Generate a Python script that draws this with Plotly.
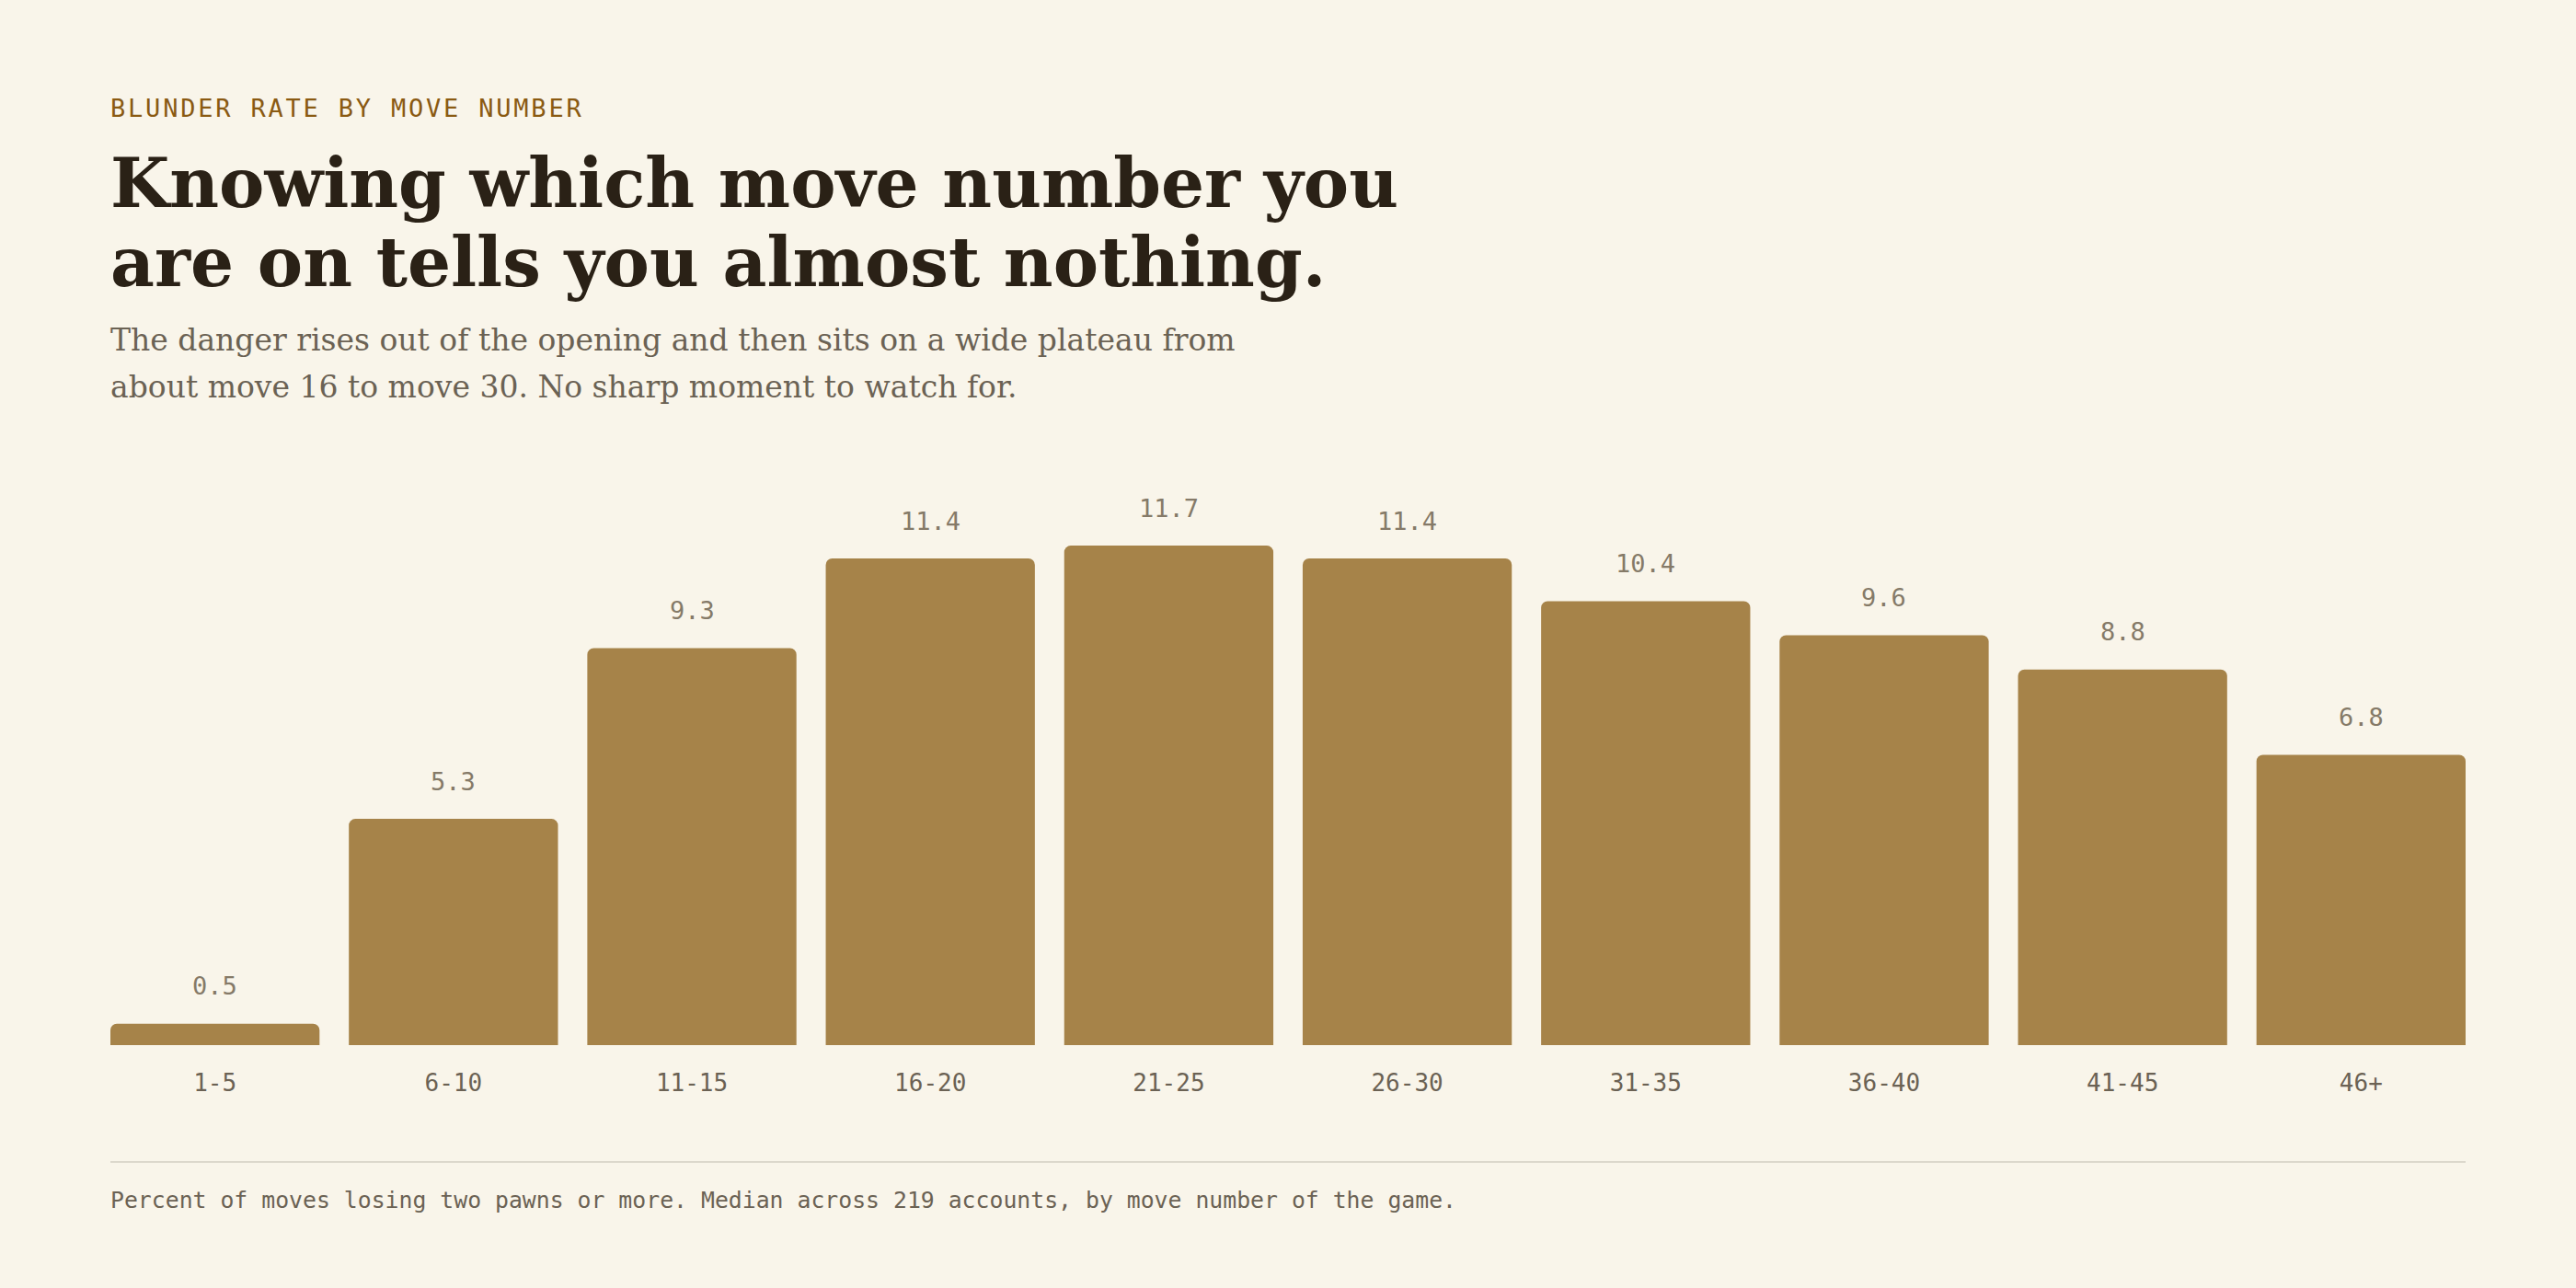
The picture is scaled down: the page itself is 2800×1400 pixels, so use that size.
import plotly.graph_objects as go

# Data
move_bins = ["1-5", "6-10", "11-15", "16-20", "21-25", "26-30", "31-35", "36-40", "41-45", "46+"]
blunder_rate = [0.5, 5.3, 9.3, 11.4, 11.7, 11.4, 10.4, 9.6, 8.8, 6.8]

eyebrow = "BLUNDER RATE BY MOVE NUMBER"
title_lines = ["Knowing which move number you", "are on tells you almost nothing."]
subtitle_lines = [
    "The danger rises out of the opening and then sits on a wide plateau from",
    "about move 16 to move 30. No sharp moment to watch for.",
]
footnote = "Percent of moves losing two pawns or more. Median across 219 accounts, by move number of the game."

# Palette
BG = "#f9f5ea"
BAR = "#a68349"
INK = "#2a2116"
ACCENT = "#8a5a12"
MUTED = "#6b6254"
LABEL = "#857a68"
RULE = "#dcd8cc"

SERIF = "DejaVu Serif"
MONO = "DejaVu Sans Mono"

W, H = 2800, 1400
M_L, M_R, M_T, M_B = 120, 120, 500, 264
PLOT_H = H - M_T - M_B
BAR_W = 0.877


def py(pix):
    # pixel row from top -> paper y
    return (H - M_B - pix) / PLOT_H


fig = go.Figure()

fig.add_trace(go.Bar(
    x=list(range(len(move_bins))),
    y=blunder_rate,
    width=BAR_W,
    marker=dict(color=BAR, line=dict(width=0), cornerradius=7),
    hoverinfo="skip",
))

annotations = []

# value labels above bars
for i, v in enumerate(blunder_rate):
    annotations.append(dict(
        x=i, y=v, xref="x", yref="y", text=f"{v:.1f}", showarrow=False,
        yanchor="middle", xanchor="center", yshift=41,
        font=dict(family=MONO, size=27, color=LABEL),
    ))

# header
annotations.append(dict(
    x=0, y=py(117), xref="paper", yref="paper", xanchor="left", yanchor="middle",
    xshift=-2,
    text=f'<span style="letter-spacing:2.8px">{eyebrow}</span>', showarrow=False,
    font=dict(family=MONO, size=27, color=ACCENT),
))
for line, cy in zip(title_lines, [199, 285]):
    annotations.append(dict(
        x=0, y=py(cy), xref="paper", yref="paper", xanchor="left", yanchor="middle",
        xshift=-2,
        text=f"<b>{line}</b>", showarrow=False,
        font=dict(family=SERIF, size=74, color=INK),
    ))
for line, cy in zip(subtitle_lines, [369.5, 420.5]):
    annotations.append(dict(
        x=0, y=py(cy), xref="paper", yref="paper", xanchor="left", yanchor="middle",
        xshift=-2,
        text=line, showarrow=False,
        font=dict(family=SERIF, size=33, color=MUTED),
    ))

# footnote
annotations.append(dict(
    x=0, y=py(1304.5), xref="paper", yref="paper", xanchor="left", yanchor="middle",
    xshift=-2,
    text=footnote, showarrow=False,
    font=dict(family=MONO, size=24.8, color=MUTED),
))

fig.update_layout(
    width=W, height=H,
    margin=dict(l=M_L, r=M_R, t=M_T, b=M_B),
    paper_bgcolor=BG, plot_bgcolor=BG,
    showlegend=False,
    annotations=annotations,
    shapes=[dict(
        type="line", xref="paper", yref="paper", x0=0, x1=1, y0=py(1263), y1=py(1263),
        line=dict(color=RULE, width=2),
    )],
    xaxis=dict(
        range=[-BAR_W / 2, len(move_bins) - 1 + BAR_W / 2],
        tickmode="array", tickvals=list(range(len(move_bins))), ticktext=move_bins,
        showgrid=False, zeroline=False, showline=False, ticks="",
        ticklabelstandoff=23,
        tickfont=dict(family=MONO, size=26, color=MUTED),
    ),
    yaxis=dict(
        range=[0, PLOT_H / 46.4], visible=False, showgrid=False, zeroline=False,
    ),
)

fig.write_html(
    "out.html",
    config={"displayModeBar": False},
    post_script=f"document.body.style.margin='0';document.body.style.background='{BG}';",
)
